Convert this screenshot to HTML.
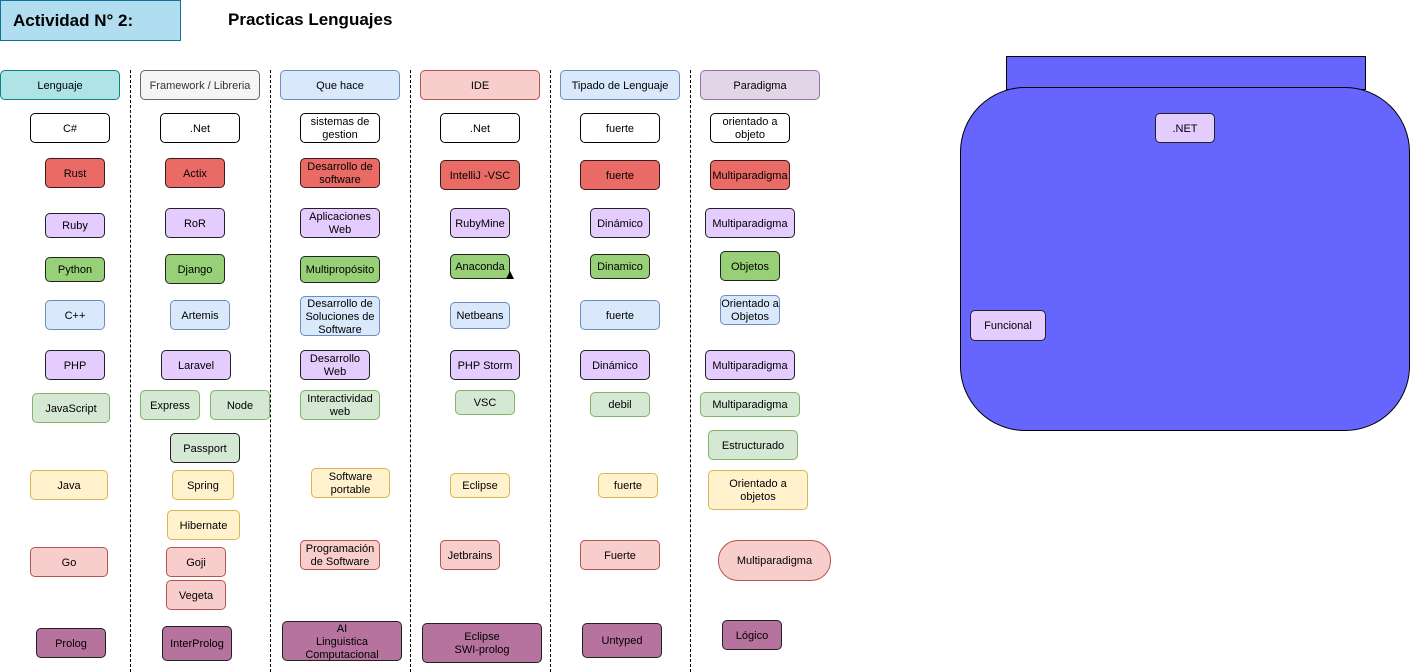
<!DOCTYPE html>
<html><head><meta charset="utf-8"><style>
body{margin:0;width:1411px;height:672px;position:relative;background:#fff;font-family:"Liberation Sans",Arial,sans-serif;overflow:hidden}
.b{position:absolute;box-sizing:border-box;border:1px solid #000;border-radius:5px;display:flex;align-items:center;justify-content:center;text-align:center;font-size:11px;line-height:13px;color:#000;padding-top:2px}
.v{position:absolute;top:70px;height:602px;border-left:1px dashed #000;width:0}
.w{background:#fff}.r{background:#ea6b66;border-color:#3a1a1a}.p{background:#e5ccff;border-color:#222}.g{background:#97d077;border-color:#222}
.lb{background:#dae8fc;border-color:#6c8ebf}.lg{background:#d5e8d4;border-color:#82b366}.y{background:#fff2cc;border-color:#d6b656}
.pk{background:#f8cecc;border-color:#b85450}.dp{background:#b5739d;border-color:#222}
</style></head><body>
<div class="b" style="left:0;top:0;width:181px;height:41px;background:#b1ddf0;border-color:#10739e;border-radius:0;font-size:17px;font-weight:bold;justify-content:flex-start;padding-left:12px;padding-top:0">Actividad N° 2:</div>
<div style="position:absolute;left:228px;top:10px;font-size:17px;font-weight:bold">Practicas Lenguajes</div>

<div class="v" style="left:130px"></div><div class="v" style="left:270px"></div><div class="v" style="left:410px"></div><div class="v" style="left:550px"></div><div class="v" style="left:690px"></div>

<div class="b" style="left:0;top:70px;width:120px;height:30px;background:#b0e3e6;border-color:#0e8088">Lenguaje</div>
<div class="b" style="left:140px;top:70px;width:120px;height:30px;background:#f5f5f5;border-color:#666;color:#333">Framework / Libreria</div>
<div class="b" style="left:280px;top:70px;width:120px;height:30px;background:#dae8fc;border-color:#6c8ebf">Que hace</div>
<div class="b" style="left:420px;top:70px;width:120px;height:30px;background:#f8cecc;border-color:#b85450">IDE</div>
<div class="b" style="left:560px;top:70px;width:120px;height:30px;background:#dae8fc;border-color:#6c8ebf">Tipado de Lenguaje</div>
<div class="b" style="left:700px;top:70px;width:120px;height:30px;background:#e1d5e7;border-color:#9673a6">Paradigma</div>

<div class="b w" style="left:30px;top:113px;width:80px;height:30px">C#</div>
<div class="b r" style="left:45px;top:158px;width:60px;height:30px">Rust</div>
<div class="b p" style="left:45px;top:213px;width:60px;height:25px">Ruby</div>
<div class="b g" style="left:45px;top:257px;width:60px;height:25px">Python</div>
<div class="b lb" style="left:45px;top:300px;width:60px;height:30px">C++</div>
<div class="b p" style="left:45px;top:350px;width:60px;height:30px">PHP</div>
<div class="b lg" style="left:32px;top:393px;width:78px;height:30px">JavaScript</div>
<div class="b y" style="left:30px;top:470px;width:78px;height:30px">Java</div>
<div class="b pk" style="left:30px;top:547px;width:78px;height:30px">Go</div>
<div class="b dp" style="left:36px;top:628px;width:70px;height:30px">Prolog</div>

<div class="b w" style="left:160px;top:113px;width:80px;height:30px">.Net</div>
<div class="b r" style="left:165px;top:158px;width:60px;height:30px">Actix</div>
<div class="b p" style="left:165px;top:208px;width:60px;height:30px">RoR</div>
<div class="b g" style="left:165px;top:254px;width:60px;height:30px">Django</div>
<div class="b lb" style="left:170px;top:300px;width:60px;height:30px">Artemis</div>
<div class="b p" style="left:161px;top:350px;width:70px;height:30px">Laravel</div>
<div class="b lg" style="left:140px;top:390px;width:60px;height:30px">Express</div>
<div class="b lg" style="left:210px;top:390px;width:60px;height:30px">Node</div>
<div class="b lg" style="left:170px;top:433px;width:70px;height:30px;border-color:#222">Passport</div>
<div class="b y" style="left:172px;top:470px;width:62px;height:30px">Spring</div>
<div class="b y" style="left:167px;top:510px;width:73px;height:30px">Hibernate</div>
<div class="b pk" style="left:166px;top:547px;width:60px;height:30px">Goji</div>
<div class="b pk" style="left:166px;top:580px;width:60px;height:30px">Vegeta</div>
<div class="b dp" style="left:162px;top:626px;width:70px;height:35px">InterProlog</div>

<div class="b w" style="left:300px;top:113px;width:80px;height:30px">sistemas de gestion</div>
<div class="b r" style="left:300px;top:158px;width:80px;height:30px">Desarrollo de software</div>
<div class="b p" style="left:300px;top:208px;width:80px;height:30px">Aplicaciones Web</div>
<div class="b g" style="left:300px;top:256px;width:80px;height:27px">Multipropósito</div>
<div class="b lb" style="left:300px;top:296px;width:80px;height:40px">Desarrollo de Soluciones de Software</div>
<div class="b p" style="left:300px;top:350px;width:70px;height:30px">Desarrollo Web</div>
<div class="b lg" style="left:300px;top:390px;width:80px;height:30px">Interactividad web</div>
<div class="b y" style="left:311px;top:468px;width:79px;height:30px">Software portable</div>
<div class="b pk" style="left:300px;top:540px;width:80px;height:30px">Programación de Software</div>
<div class="b dp" style="left:282px;top:621px;width:120px;height:40px">AI<br>Linguistica<br>Computacional</div>

<div class="b w" style="left:440px;top:113px;width:80px;height:30px">.Net</div>
<div class="b r" style="left:440px;top:160px;width:80px;height:30px">IntelliJ -VSC</div>
<div class="b p" style="left:450px;top:208px;width:60px;height:30px">RubyMine</div>
<div class="b g" style="left:450px;top:254px;width:60px;height:25px">Anaconda</div>
<div style="position:absolute;left:506px;top:271px;width:0;height:0;border-left:4px solid transparent;border-right:4px solid transparent;border-bottom:8px solid #000"></div>
<div class="b lb" style="left:450px;top:302px;width:60px;height:27px">Netbeans</div>
<div class="b p" style="left:450px;top:350px;width:70px;height:30px">PHP Storm</div>
<div class="b lg" style="left:455px;top:390px;width:60px;height:25px">VSC</div>
<div class="b y" style="left:450px;top:473px;width:60px;height:25px">Eclipse</div>
<div class="b pk" style="left:440px;top:540px;width:60px;height:30px">Jetbrains</div>
<div class="b dp" style="left:422px;top:623px;width:120px;height:40px">Eclipse<br>SWI-prolog</div>

<div class="b w" style="left:580px;top:113px;width:80px;height:30px">fuerte</div>
<div class="b r" style="left:580px;top:160px;width:80px;height:30px">fuerte</div>
<div class="b p" style="left:590px;top:208px;width:60px;height:30px">Dinámico</div>
<div class="b g" style="left:590px;top:254px;width:60px;height:25px">Dinamico</div>
<div class="b lb" style="left:580px;top:300px;width:80px;height:30px">fuerte</div>
<div class="b p" style="left:580px;top:350px;width:70px;height:30px">Dinámico</div>
<div class="b lg" style="left:590px;top:392px;width:60px;height:25px">debil</div>
<div class="b y" style="left:598px;top:473px;width:60px;height:25px">fuerte</div>
<div class="b pk" style="left:580px;top:540px;width:80px;height:30px">Fuerte</div>
<div class="b dp" style="left:582px;top:623px;width:80px;height:35px">Untyped</div>

<div class="b w" style="left:710px;top:113px;width:80px;height:30px">orientado a objeto</div>
<div class="b r" style="left:710px;top:160px;width:80px;height:30px">Multiparadigma</div>
<div class="b p" style="left:705px;top:208px;width:90px;height:30px">Multiparadigma</div>
<div class="b g" style="left:720px;top:251px;width:60px;height:30px">Objetos</div>
<div class="b lb" style="left:720px;top:295px;width:60px;height:30px">Orientado a Objetos</div>
<div class="b p" style="left:705px;top:350px;width:90px;height:30px">Multiparadigma</div>
<div class="b lg" style="left:700px;top:392px;width:100px;height:25px">Multiparadigma</div>
<div class="b lg" style="left:708px;top:430px;width:90px;height:30px">Estructurado</div>
<div class="b y" style="left:708px;top:470px;width:100px;height:40px">Orientado a<br>objetos</div>
<div class="b pk" style="left:718px;top:540px;width:113px;height:41px;border-radius:20px">Multiparadigma</div>
<div class="b dp" style="left:722px;top:620px;width:60px;height:30px">Lógico</div>

<div class="b" style="left:1006px;top:56px;width:360px;height:34px;background:#6666ff;border-radius:0"></div>
<div class="b" style="left:960px;top:87px;width:450px;height:344px;background:#6666ff;border-radius:65px"></div>
<div class="b p" style="left:1155px;top:113px;width:60px;height:30px">.NET</div>
<div class="b p" style="left:970px;top:310px;width:76px;height:31px">Funcional</div>
</body></html>
